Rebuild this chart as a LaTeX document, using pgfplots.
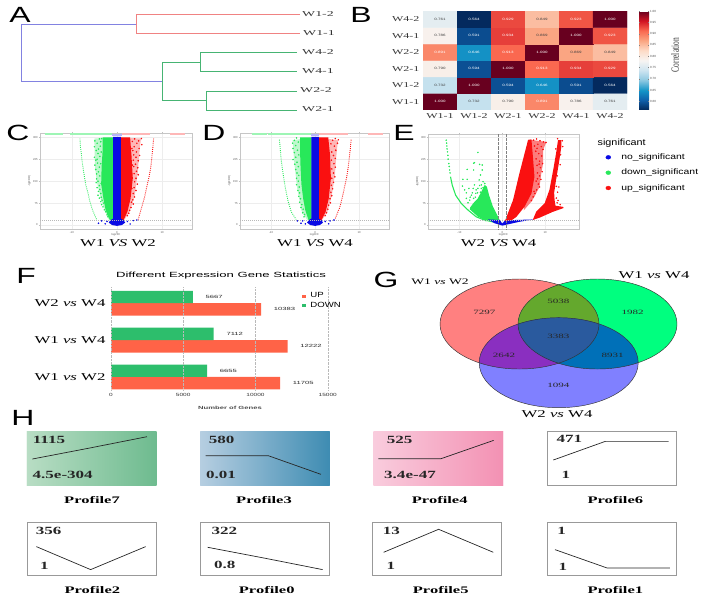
\documentclass[border=0pt]{standalone}
\usepackage{pgfplots}
\usepackage{pgfplotstable}
\usepackage{fontspec}
\setmainfont{Liberation Serif}
\setsansfont{Liberation Sans}
\pgfplotsset{compat=1.18}

\definecolor{vgreen}{RGB}{40,232,90}
\definecolor{vred}{RGB}{250,16,16}
\definecolor{vblue}{RGB}{10,10,228}
\definecolor{barup}{RGB}{255,99,71}
\definecolor{bardown}{RGB}{45,190,108}
\definecolor{den1}{RGB}{240,130,130}
\definecolor{den2}{RGB}{130,130,225}
\definecolor{den3}{RGB}{70,180,115}
\definecolor{vr}{RGB}{255,128,128}
\definecolor{vg}{RGB}{0,255,127}
\definecolor{vb}{RGB}{128,128,255}
\definecolor{vrg}{RGB}{100,168,45}
\definecolor{vrb}{RGB}{138,47,192}
\definecolor{vgb}{RGB}{0,112,184}
\definecolor{vrgb}{RGB}{42,90,158}
\definecolor{p7a}{RGB}{184,221,196}
\definecolor{p7b}{RGB}{110,187,143}
\definecolor{p3a}{RGB}{182,206,225}
\definecolor{p3b}{RGB}{62,140,178}
\definecolor{p4a}{RGB}{249,204,221}
\definecolor{p4b}{RGB}{243,145,179}

\newcommand{\st}[2][1.6]{\scalebox{#1}[1]{#2}}
\newcommand{\vs}[2]{#1 \textit{vs} #2}

\tikzset{
  lb/.style={inner sep=0pt,font=\fontsize{#1}{#1}\selectfont,xscale=1.6},
  vn/.style={inner sep=0pt,font=\fontsize{6.5}{6.5}\selectfont,xscale=1.7,text=black!85},
  dn/.style={inner sep=0pt,font=\fontsize{7.5}{7.5}\selectfont,xscale=1.85,text=black!80},
  pf/.style={inner sep=0pt,font=\bfseries\fontsize{10}{10}\selectfont,xscale=1.65},
  nm/.style={inner sep=0pt,font=\bfseries\fontsize{11}{11}\selectfont,xscale=1.55,text=black!85},
  panel/.style={inner sep=0pt,font=\sffamily\fontsize{22}{22}\selectfont,xscale=1.45},
  sn/.style={inner sep=0pt,anchor=west,font=\sffamily\fontsize{8}{8}\selectfont,xscale=1.3},
}

\pgfplotsset{
  volcano/.style={
    scale only axis,anchor=north west,clip=true,
    ymin=-13.7,ymax=315,ytick={0,75,150,225,300},xtick={-10,0,10},
    grid=both,grid style={gray!14,line width=0.25pt},
    axis line style={gray!45,line width=0.5pt},
    tick style={gray!50,line width=0.25pt},tick align=outside,
    major tick length=1.2pt,
    /pgf/number format/assume math mode=true,
    tick label style={font=\sffamily\fontsize{2.8}{3}\selectfont,text=gray!70!black,inner sep=0.8pt},
    xlabel={log2FC},ylabel={-lg(FDR)},
    label style={font=\sffamily\fontsize{2.8}{3}\selectfont,text=gray!70!black},
    xlabel shift=-4pt,ylabel shift=-2pt,
  },
  cloud/.style={only marks,mark=*,mark size=0.55pt,color=#1},
  sheet/.style={draw=none,fill=#1},
  edge/.style={color=#1,line width=0.9pt,dash pattern=on 0.9pt off 1.2pt,no marks},
  strip/.style={color=#1,line width=1.5pt,no marks},
  band/.style={color=#1,line width=1.1pt,no marks},
  cut/.style={gray!55,line width=0.25pt,dash pattern=on 1pt off 1pt},
  celltext/.style={only marks,mark=none,draw=none,point meta=explicit symbolic,
    nodes near coords,
    nodes near coords style={anchor=center,inner sep=0pt,text=#1,
      font=\sffamily\fontsize{3.2}{3.2}\selectfont,xscale=1.4}},
}

% one STEM profile: left, top, background, points
\newcommand{\profile}[4]{
  \begin{axis}[scale only axis,anchor=north west,at={(#1pt,-#2pt)},
    width=129.3pt,height=53.3pt,xmin=0,xmax=388,ymin=0,ymax=160,
    xtick=\empty,ytick=\empty,axis line style={#3},
    axis background/.style={#3}]
    \addplot[black!85,line width=0.7pt,no marks] coordinates {#4};
  \end{axis}
}

\pgfplotstableread{
x y z
0 0 1.000
1 0 0.732
2 0 0.790
3 0 0.891
4 0 0.786
5 0 0.761
0 1 0.732
1 1 1.000
2 1 0.594
3 1 0.646
4 1 0.591
5 1 0.564
0 2 0.790
1 2 0.594
2 2 1.000
3 2 0.913
4 2 0.934
5 2 0.929
0 3 0.891
1 3 0.646
2 3 0.913
3 3 1.000
4 3 0.869
5 3 0.849
0 4 0.786
1 4 0.591
2 4 0.934
3 4 0.869
4 4 1.000
5 4 0.923
0 5 0.761
1 5 0.564
2 5 0.929
3 5 0.849
4 5 0.923
5 5 1.000
}\corr

\begin{document}
\begin{tikzpicture}
\useasboundingbox (0,0) rectangle (702pt,-600pt);

% B heatmap
\begin{axis}[scale only axis,anchor=north west,at={(423pt,-11pt)},
  width=204pt,height=99pt,
  xmin=-0.5,xmax=5.5,ymin=-0.5,ymax=5.5,
  xtick={0,...,5},ytick={0,...,5},
  xticklabels={\st{W1-1},\st{W1-2},\st{W2-1},\st{W2-2},\st{W4-1},\st{W4-2}},
  yticklabels={\st{W1-1},\st{W1-2},\st{W2-1},\st{W2-2},\st{W4-1},\st{W4-2}},
  tick label style={font=\fontsize{7.5}{8}\selectfont,text=black!80},
  major tick length=0pt,axis line style={draw=none},
  point meta min=0.562,point meta max=1,
  colormap={rdbu}{rgb255=(3,40,90) rgb255=(15,95,170) rgb255=(20,150,200) rgb255=(140,200,225) rgb255=(205,228,240) rgb255=(247,244,242) rgb255=(253,219,199) rgb255=(250,165,130) rgb255=(250,105,80) rgb255=(210,20,35) rgb255=(103,0,31)},
  colorbar,
  colorbar style={at={(1.059,1)},anchor=north west,width=10pt,
    ytick={0.6,0.65,0.7,0.75,0.8,0.85,0.9,0.95,1},
    /pgf/number format/assume math mode=true,
    yticklabel style={font=\sffamily\fontsize{3}{3}\selectfont,text=black!70,
      /pgf/number format/fixed,/pgf/number format/fixed zerofill,/pgf/number format/precision=2,inner sep=1pt},
    major tick length=1pt,tick style={gray},axis line style={draw=none}},
]
\addplot[matrix plot*,mesh/cols=6,point meta=explicit] table[x=x,y=y,meta=z] {\corr};
\addplot[celltext=black!75] table[meta=z] {
x y z
1 0 0.732
2 0 0.790
4 0 0.786
5 0 0.761
0 1 0.732
0 2 0.790
4 3 0.869
5 3 0.849
0 4 0.786
3 4 0.869
0 5 0.761
3 5 0.849
};
\addplot[celltext=white] table[meta=z] {
x y z
0 0 1.000
3 0 0.891
1 1 1.000
2 1 0.594
3 1 0.646
4 1 0.591
5 1 0.564
1 2 0.594
2 2 1.000
3 2 0.913
4 2 0.934
5 2 0.929
0 3 0.891
1 3 0.646
2 3 0.913
3 3 1.000
1 4 0.591
2 4 0.934
4 4 1.000
5 4 0.923
1 5 0.564
2 5 0.929
4 5 0.923
5 5 1.000
};
\end{axis}

% C volcano
\begin{axis}[volcano,at={(40pt,-133pt)},width=152pt,height=96pt,xmin=-17.04,xmax=16.6]
\addplot[sheet=vgreen!30!white] coordinates {(-5,296)(-4.9,205)(-4.5,150)(-3.4,80)(-1.9,20)(-0.8,5)(-0.8,300)} -- cycle;
\addplot[sheet=vred!30!white] coordinates {(5.3,296)(4.9,240)(4.6,180)(3.9,100)(2.8,45)(1.5,15)(0.8,5)(0.8,300)} -- cycle;
\addplot[sheet=vgreen] coordinates {(-3.2,300)(-0.8,300)(-0.8,4)(-1.6,18)(-2.5,50)(-3,90)(-3.5,140)(-3.4,200)(-3.2,250)} -- cycle;
\addplot[sheet=vred] coordinates {(0.8,300)(2.9,300)(3.2,240)(3.5,160)(3,90)(2.3,45)(1.5,18)(0.8,4)} -- cycle;
\addplot[sheet=vblue] coordinates {(-0.85,302)(0.85,302)(0.85,22)(1.5,16)(1.8,8)(1.1,0)(0,-3)(-1.1,0)(-1.8,8)(-1.5,16)(-0.85,22)} -- cycle;
\addplot[cloud=vgreen] coordinates {(-4.9,288)(-4.4,280)(-5,268)(-3.9,295)(-4.6,255)(-3.7,270)(-4.2,245)(-5,232)(-4.7,222)(-3.8,235)(-4.9,205)(-4.3,212)(-3.9,198)(-4.7,190)(-4.5,175)(-4.1,182)(-3.8,168)(-4.5,158)(-4.6,145)(-4.2,150)(-3.9,135)(-4.4,128)(-4.1,115)(-3.8,122)(-4.2,102)(-3.6,108)(-3.9,92)(-3.5,95)(-3.6,80)(-3.3,85)(-3.4,70)(-3.1,62)(-2.9,75)(-2.8,52)(-2.5,45)(-2.4,60)(-2.2,35)(-2,28)(-3.5,142)(-3.6,210)(-3.5,250)(-3.6,285)(-3.4,296)(-4.1,260)(-4.4,225)};
\addplot[cloud=vred] coordinates {(5.4,296)(4.8,288)(5.5,275)(3.9,295)(4.4,280)(3.4,286)(4.9,262)(3.8,268)(4.3,250)(3.5,255)(5,238)(4.2,232)(3.7,240)(4.7,220)(3.6,222)(4.1,208)(4.6,196)(3.7,200)(4.3,184)(4.7,172)(3.8,176)(4.2,160)(3.9,148)(4.5,140)(3.8,128)(4.2,118)(3.6,108)(3.9,96)(3.5,86)(3.6,72)(3.2,78)(3.1,60)(2.8,50)(2.6,40)(2.3,32)(3.3,125)(3.4,205)(3.3,262)};
\addplot[edge=vgreen] coordinates {(-8.2,296)(-8.1,268)(-7.9,245)(-7.7,216)(-7.5,194)(-7.2,165)(-6.9,137)(-6.4,108)(-6,80)(-5.4,51)(-4.5,19)};
\addplot[edge=vred] coordinates {(8.1,296)(7.9,260)(7.5,200)(7.1,165)(6.6,131)(6.1,95)(5.5,63)(4.7,19)};
\addplot[cloud=vblue] coordinates {(-4.1,6)(-3.4,14)(2.9,3.4)(4.4,17)(3.6,15)(-2.6,4)(2.3,12)(-2.2,12)};
\addplot[strip=vgreen!45!white] coordinates {(-16,311)(-12,311)};
\addplot[strip=vgreen!45!white] coordinates {(-10.4,311)(-1,311)};
\addplot[strip=vblue!30!white] coordinates {(-1,309)(1,309)};
\addplot[strip=vred!30!white] coordinates {(1,311)(7.3,311)};
\addplot[strip=vred!30!white] coordinates {(11.8,311)(15.1,311)};
\addplot[cut] coordinates {(-17.04,15)(16.6,15)};
\end{axis}

% D volcano
\begin{axis}[volcano,at={(240pt,-133pt)},width=149pt,height=96pt,xmin=-17.05,xmax=16.8]
\addplot[sheet=vgreen!30!white] coordinates {(-5.1,290)(-4.7,210)(-4.1,130)(-3.1,50)(-1.9,20)(-0.8,5)(-0.8,300)} -- cycle;
\addplot[sheet=vred!30!white] coordinates {(5.2,290)(4.8,230)(4.5,170)(3.8,100)(2.8,45)(1.5,15)(0.8,5)(0.8,300)} -- cycle;
\addplot[sheet=vgreen] coordinates {(-3.4,300)(-0.8,300)(-0.8,4)(-1.5,18)(-2.2,50)(-2.7,90)(-3.1,140)(-3.3,200)(-3.4,250)} -- cycle;
\addplot[sheet=vred] coordinates {(0.8,300)(3,300)(3.4,240)(3.6,160)(3.1,90)(2.4,45)(1.5,18)(0.8,4)} -- cycle;
\addplot[sheet=vblue] coordinates {(-0.85,302)(0.85,302)(0.85,22)(1.5,16)(1.8,8)(1.1,0)(0,-3)(-1.1,0)(-1.8,8)(-1.5,16)(-0.85,22)} -- cycle;
\addplot[cloud=vgreen] coordinates {(-4.2,298)(-4.7,290)(-5.1,280)(-3.8,284)(-4.4,272)(-5,262)(-4,256)(-4.7,248)(-3.7,240)(-4.4,232)(-5,224)(-4.1,215)(-4.6,208)(-3.8,200)(-4.4,190)(-4.1,178)(-3.7,170)(-4.2,160)(-3.8,150)(-4.2,138)(-3.6,130)(-3.9,118)(-3.5,110)(-3.7,98)(-3.3,90)(-3.5,78)(-3,70)(-3.2,60)(-2.7,54)(-2.8,42)(-2.4,36)(-2.5,28)};
\addplot[cloud=vred] coordinates {(5.3,292)(5.1,280)(4.6,296)(4,290)(4.4,270)(3.6,278)(4.7,256)(3.8,250)(4.2,238)(4.6,228)(3.7,222)(4.3,210)(4.6,198)(3.8,192)(4.2,178)(4.5,165)(3.8,160)(4.2,146)(3.7,136)(4,124)(3.6,112)(3.8,100)(3.4,90)(3.5,76)(3.1,68)(2.9,54)(2.6,42)(2.3,32)};
\addplot[edge=vgreen] coordinates {(-8.1,292)(-7.9,260)(-7.7,225)(-7.4,190)(-7,150)(-6.6,115)(-6.1,80)(-5.4,45)(-4.3,19)};
\addplot[edge=vred] coordinates {(8.2,292)(8,260)(7.6,205)(7.2,165)(6.7,130)(6.2,95)(5.6,60)(4.5,19)};
\addplot[cloud=vblue] coordinates {(-3.2,6)(-2.8,14)(3.1,4)(4.3,17)(3.4,14)(-2.2,4)(2.3,12)(-4,14)};
\addplot[strip=vgreen!45!white] coordinates {(-14.4,311)(-11,311)};
\addplot[strip=vgreen!45!white] coordinates {(-10.6,311)(-1,311)};
\addplot[strip=vblue!30!white] coordinates {(-1,309)(1,309)};
\addplot[strip=vred!30!white] coordinates {(1,311)(7.5,311)};
\addplot[strip=vred!30!white] coordinates {(12,311)(15.5,311)};
\addplot[cut] coordinates {(-17.05,15)(16.8,15)};
\end{axis}

% E volcano
\begin{axis}[volcano,at={(428pt,-134pt)},width=151pt,height=95pt,xmin=-17.35,xmax=17.9,ymax=311]
\addplot[sheet=vgreen] coordinates {(-0.2,3.4)(-1.4,5.7)(-3.7,13.7)(-5.7,28.5)(-7.6,53.5)(-7.5,60)(-6.8,74)(-5.7,91)(-4.9,114)(-4.1,137)(-3.6,131)(-3.1,102)(-2.2,63)(-0.6,17)} -- cycle;
\addplot[band=vgreen] coordinates {(-12.1,165)(-11.7,137)(-10.9,102)(-9.6,74)(-8,51)(-6.1,28)(-3.7,14)};
\addplot[cloud=vgreen] coordinates {(-13.1,290)(-13,280)(-12.95,270)(-12.9,260)(-12.8,250)(-12.7,238)(-12.65,225)(-12.5,210)(-12.4,200)(-12.3,188)(-12.2,178)(-5.7,248)(-6.7,211)(-5.3,207)(-4.7,205)(-8.2,190)(-6.7,188)(-4.7,188)(-6.5,213)(-9.2,156)(-8.2,156)(-5.1,171)(-5.4,154)(-4.5,148)(-4.9,137)(-9.3,133)(-8.8,120)(-7.8,125)(-6.5,137)(-5.7,125)(-7.2,102)(-8.4,91)(-6.2,108)(-4.9,125)(-7.6,85)(-6.7,91)(-8,76)(-6.1,120)(-6.8,125)(-4.1,142)(-5.3,135)(-5.8,110)(-7,110)(-7.5,95)(-8.4,110)(-5.1,112)(-4.5,128)(-6.3,95)};
\addplot[sheet=vred!55!white] coordinates {(6,292)(10.3,284)(9.5,256)(9.5,210)(9.1,177)(8.7,131)(7.5,97)(6.8,80)(5,50)} -- cycle;
\addplot[sheet=vred] coordinates {(0.54,11)(2.5,85)(4,177)(5.2,245)(6,290)(6.8,293)(7.2,222)(7.5,165)(6.8,108)(5.2,63)(3.3,28)(1.7,11)} -- cycle;
\addplot[sheet=vred] coordinates {(7.1,17)(7.9,45)(9.9,75)(11,120)(11.9,190)(12.6,250)(13,290)(13.8,290)(13.8,270)(13.2,211)(12.5,150)(12.1,110)(12.2,85)(12.4,66)(14.2,62)(14.3,58)(11.8,45)(8.7,25)} -- cycle;
\addplot[cloud=vred] coordinates {(7.3,290)(8,294)(8.8,288)(9.6,284)(10.2,282)(7.5,270)(8.3,276)(9.1,268)(9.5,258)(7.8,252)(8.5,244)(9.2,236)(7.9,226)(8.7,218)(9.4,210)(8.1,204)(8.9,196)(9.3,182)(8.2,178)(8.7,168)(9,156)(7.9,150)(8.4,140)(8.7,130)(8,120)(7.6,108)(7.2,96)(6.8,84)(7.4,115)(8.2,158)(8.6,208)(8.1,262)(12.9,295)(14,288)(13.4,276)(14.1,268)(12.5,260)(13.6,240)(13.1,230)(13.5,206)(12.8,168)(12.6,132)(13.2,130)(12.9,112)(12.6,92)(13,84)(12.8,76)(13.5,70)(11.4,72)(11.7,90)(11,64)(10.5,56)};
\addplot[sheet=vblue] coordinates {(-3.3,19)(-0.6,17)(0,4.5)(0.5,13.7)(2.9,17)(7.2,19)(4,11)(1.7,3.4)(0,-2)(-1.8,6)} -- cycle;
\addplot[black!50,line width=0.3pt,densely dotted] coordinates {(-1,-13.7)(-1,311)};
\addplot[black!50,line width=0.3pt,densely dotted] coordinates {(0.93,-13.7)(0.93,311)};
\addplot[cut] coordinates {(-17.35,15)(17.9,15)};
\end{axis}

% F bars
\begin{axis}[scale only axis,anchor=north west,at={(111pt,-287pt)},
  width=216.7pt,height=103pt,xmin=0,xmax=15000,ymin=-0.353,ymax=2.44,
  xtick={0,5000,10000,15000},ytick={0,1,2},
  yticklabels={\st{\vs{W1}{W2}},\st{\vs{W1}{W4}},\st{\vs{W2}{W4}}},
  yticklabel style={font=\fontsize{10.5}{11}\selectfont,xshift=-2pt},
  /pgf/number format/assume math mode=true,
  xticklabel style={font=\sffamily\fontsize{4.5}{5}\selectfont,xscale=1.45,text=black!80},
  scaled x ticks=false,
  /pgf/number format/1000 sep={},
  major tick length=0pt,axis line style={draw=none},
  xmajorgrids,grid style={gray!55,densely dotted,line width=0.3pt},
  axis on top,
  legend cell align=left,
  legend style={at={(0.88,0.965)},anchor=north west,draw=none,fill=none,inner sep=0pt,
    row sep=-1.5pt,font=\sffamily\fontsize{7.5}{8}\selectfont},
  legend image code/.code={\fill[#1] (0pt,-1.5pt) rectangle (4.5pt,1.5pt);},
  point meta=x,
  nodes near coords,
  nodes near coords style={font=\sffamily\fontsize{4.5}{5}\selectfont,xscale=1.7,anchor=west,xshift=4pt,text=black!85,
    /pgf/number format/1000 sep={},/pgf/number format/assume math mode=true},
]
\addplot[xbar,bar width=12.4pt,bar shift=-6.2pt,fill=barup,draw=none,
  nodes near coords style={yshift=-6.2pt}] coordinates {(11705,0)(12222,1)(10383,2)};
\addlegendentry{\hspace*{2pt}\st[1.28]{UP}}
\addplot[xbar,bar width=12.4pt,bar shift=6.2pt,fill=bardown,draw=none,
  nodes near coords style={yshift=6.2pt}] coordinates {(6655,0)(7112,1)(5667,2)};
\addlegendentry{\hspace*{2pt}\st[1.28]{DOWN}}
\end{axis}

% H profiles
\profile{27}{431.7}{draw=none,left color=p7a,right color=p7b}{(16,78)(188,111)(360,145)}
\profile{200.3}{431.7}{draw=none,left color=p3a,right color=p3b}{(16,88)(204,88)(362,32)}
\profile{373.7}{431.7}{draw=none,left color=p4a,right color=p4b}{(14,79)(202,79)(360,134)}
\profile{547.3}{431.7}{draw=gray!80,line width=0.7pt}{(18,75)(174,131)(364,131)}
\profile{27}{522.3}{draw=gray!80,line width=0.7pt}{(28,87)(191,18)(356,87)}
\profile{200.3}{522.3}{draw=gray!80,line width=0.7pt}{(22,85)(195,52)(367,18)}
\profile{372.3}{522.3}{draw=gray!80,line width=0.7pt}{(34,70)(199,139)(363,70)}
\profile{547.3}{522.3}{draw=gray!80,line width=0.7pt}{(23,78)(179,23)(368,23)}

% overlay in picture pixels: A, G, letters and labels
\begin{axis}[anchor=north west,at={(0pt,0pt)},x=1pt,y=1pt,
  xmin=0,xmax=702,ymin=0,ymax=600,y dir=reverse,hide axis,clip=false]
% A dendrogram
\addplot[den2,line width=0.6pt,no marks] coordinates {(136,24)(21,24)(21,81)(162,81)};
\addplot[den1,line width=0.6pt,no marks] coordinates {(300,14)(136,14)(136,33)(300,33)};
\addplot[den3,line width=0.6pt,no marks] coordinates {(200,62)(162,62)(162,100)(206,100)};
\addplot[den3,line width=0.6pt,no marks] coordinates {(297,52)(200,52)(200,71)(297,71)};
\addplot[den3,line width=0.6pt,no marks] coordinates {(297,91)(206,91)(206,110)(297,110)};
\node[dn] at (318,14) {W1-2};
\node[dn] at (319,33) {W1-1};
\node[dn] at (318,52) {W4-2};
\node[dn] at (318,71) {W4-1};
\node[dn] at (316,90) {W2-2};
\node[dn] at (318,109) {W2-1};
% G venn
\fill[vr] (519.5,324) ellipse [x radius=79.5,y radius=45];
\fill[vg] (597.5,324) ellipse [x radius=79.5,y radius=45];
\fill[vb] (558.7,362.7) ellipse [x radius=79.5,y radius=45];
\begin{scope}
  \clip (519.5,324) ellipse [x radius=79.5,y radius=45];
  \fill[vrg] (597.5,324) ellipse [x radius=79.5,y radius=45];
  \fill[vrb] (558.7,362.7) ellipse [x radius=79.5,y radius=45];
\end{scope}
\begin{scope}
  \clip (597.5,324) ellipse [x radius=79.5,y radius=45];
  \fill[vgb] (558.7,362.7) ellipse [x radius=79.5,y radius=45];
\end{scope}
\begin{scope}
  \clip (519.5,324) ellipse [x radius=79.5,y radius=45];
  \clip (597.5,324) ellipse [x radius=79.5,y radius=45];
  \fill[vrgb] (558.7,362.7) ellipse [x radius=79.5,y radius=45];
\end{scope}
\draw[black!80,line width=0.45pt] (519.5,324) ellipse [x radius=79.5,y radius=45];
\draw[black!80,line width=0.45pt] (597.5,324) ellipse [x radius=79.5,y radius=45];
\draw[black!80,line width=0.45pt] (558.7,362.7) ellipse [x radius=79.5,y radius=45];
\node[vn] at (484.3,312.7) {7297};
\node[vn] at (558.3,301.7) {5038};
\node[vn] at (632.7,312.7) {1982};
\node[vn] at (558.3,336.7) {3383};
\node[vn] at (504,355) {2642};
\node[vn] at (612.7,355) {8931};
\node[vn] at (558.3,385) {1094};
\node[lb=8.5] at (440,282) {\vs{W1}{W2}};
\node[lb=10.5] at (654,275) {\vs{W1}{W4}};
\node[lb=10.5] at (557,414) {\vs{W2}{W4}};
% titles under the volcanos
\node[lb=10.5] at (118,243) {W1 \textit{VS} W2};
\node[lb=10.5] at (315,243) {W1 \textit{VS} W4};
\node[lb=10.5] at (498.6,243) {W2 \textit{VS} W4};
% volcano legend
\addplot[only marks,mark=*,mark size=1.9pt,vblue,mark options={xscale=1.3}] coordinates {(608.3,157.3)};
\addplot[only marks,mark=*,mark size=1.9pt,vgreen,mark options={xscale=1.3}] coordinates {(608.3,172.7)};
\addplot[only marks,mark=*,mark size=1.9pt,vred,mark options={xscale=1.3}] coordinates {(608.3,188)};
\node[inner sep=0pt,font=\sffamily\fontsize{9}{9}\selectfont,xscale=1.2] at (621.7,142.7) {significant};
\node[sn] at (621,157.3) {no\_significant};
\node[sn] at (621,172.7) {down\_significant};
\node[sn] at (621,188) {up\_significant};
% B colourbar title
\node[rotate=90,inner sep=0pt,font=\fontsize{11}{11}\selectfont,text=black!80] at (675,55) {\scalebox{0.68}[1]{Correlation}};
% F title and axis title
\node[inner sep=0pt,font=\sffamily\fontsize{7.5}{7.5}\selectfont,xscale=1.75] at (221,276) {Different Expression Gene Statistics};
\node[inner sep=0pt,font=\sffamily\bfseries\fontsize{4.5}{5}\selectfont,xscale=1.7,text=black!70] at (230,408) {Number of Genes};
% H numbers
\node[nm] at (49,440) {1115};
\node[nm] at (62.7,475) {4.5e-304};
\node[pf] at (92,500) {Profile7};
\node[nm] at (221.7,440) {580};
\node[nm] at (221,475) {0.01};
\node[pf] at (264,500) {Profile3};
\node[nm] at (399.7,440) {525};
\node[nm] at (410,475) {3.4e-47};
\node[pf] at (439.7,500) {Profile4};
\node[nm] at (569.3,439.3) {471};
\node[nm] at (566,475) {1};
\node[pf] at (615.3,500) {Profile6};
\node[nm] at (48.7,531.3) {356};
\node[nm] at (44.3,566.3) {1};
\node[pf] at (92.3,590) {Profile2};
\node[nm] at (224.3,531.3) {322};
\node[nm] at (224.7,565.3) {0.8};
\node[pf] at (266.7,590) {Profile0};
\node[nm] at (391.3,531.3) {13};
\node[nm] at (391,565.7) {1};
\node[pf] at (440.7,590) {Profile5};
\node[nm] at (561.7,531.3) {1};
\node[nm] at (563,566.7) {1};
\node[pf] at (615.3,590) {Profile1};
% panel letters
\node[panel] at (20,15) {A};
\node[panel] at (361,15) {B};
\node[panel] at (18,133) {C};
\node[panel] at (214,133) {D};
\node[panel] at (404,133) {E};
\node[panel] at (26,276) {F};
\node[panel] at (386,280) {G};
\node[panel] at (23,418) {H};
\end{axis}
\end{tikzpicture}
\end{document}
